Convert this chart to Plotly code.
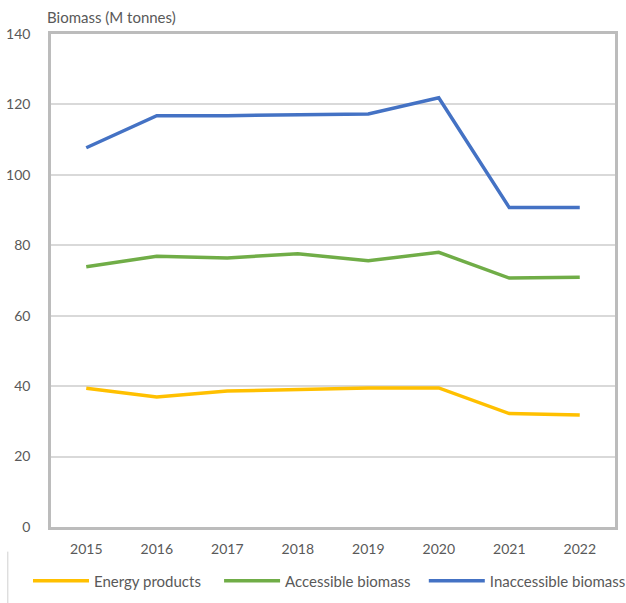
import plotly.graph_objects as go

years = ["2015", "2016", "2017", "2018", "2019", "2020", "2021", "2022"]
energy_products = [39.4, 36.9, 38.6, 39.0, 39.5, 39.5, 32.2, 31.8]
accessible_biomass = [73.9, 76.9, 76.4, 77.6, 75.6, 78.0, 70.7, 70.9]
inaccessible_biomass = [107.7, 116.8, 116.8, 117.1, 117.3, 121.9, 90.7, 90.7]

series = [
    ("Energy products", energy_products, "#FFC000", "legend", -0.0408),
    ("Accessible biomass", accessible_biomass, "#70AD47", "legend2", 0.298),
    ("Inaccessible biomass", inaccessible_biomass, "#4472C4", "legend3", 0.661),
]

font_family = "Lato, 'Open Sans', sans-serif"
text_color = "#595959"

fig = go.Figure()
legends = {}
for name, values, color, legend_id, lx in series:
    fig.add_trace(go.Scatter(
        x=years, y=values, name=name, mode="lines",
        line=dict(color=color, width=3.5), legend=legend_id,
    ))
    legends[legend_id] = dict(
        orientation="h", xref="paper", yref="paper",
        x=lx, xanchor="left", y=-0.1095, yanchor="middle",
        font=dict(size=15, color=text_color), itemwidth=56,
        bgcolor="rgba(0,0,0,0)",
    )

fig.update_layout(
    width=626, height=603,
    margin=dict(l=51, r=11, t=34, b=76, autoexpand=False),
    paper_bgcolor="white", plot_bgcolor="white",
    font=dict(family=font_family, size=14, color=text_color),
    showlegend=True,
    xaxis=dict(
        type="category", range=[-0.5, 7.5], automargin=False,
        showline=True, linecolor="#bcbcbc", linewidth=2.5, mirror=True,
        showgrid=False, ticks="", ticklabelstandoff=7,
    ),
    yaxis=dict(
        range=[0, 140], dtick=20, automargin=False,
        showline=True, linecolor="#bcbcbc", linewidth=2.5, mirror=True,
        showgrid=True, gridcolor="#d9d9d9", gridwidth=1.5,
        zeroline=False, ticks="", ticklabelstandoff=15,
    ),
    annotations=[dict(
        text="Biomass (M tonnes)", xref="paper", yref="paper",
        x=-0.01, y=1.034, xanchor="left", yanchor="middle",
        showarrow=False, font=dict(size=15, color=text_color),
    )],
    shapes=[dict(
        type="line", xref="paper", yref="paper",
        x0=-0.0766, x1=-0.0766, y0=-0.05, y1=-0.16,
        line=dict(color="#d0d0d0", width=1),
    )],
    **legends,
)

fig.write_html("out.html")
